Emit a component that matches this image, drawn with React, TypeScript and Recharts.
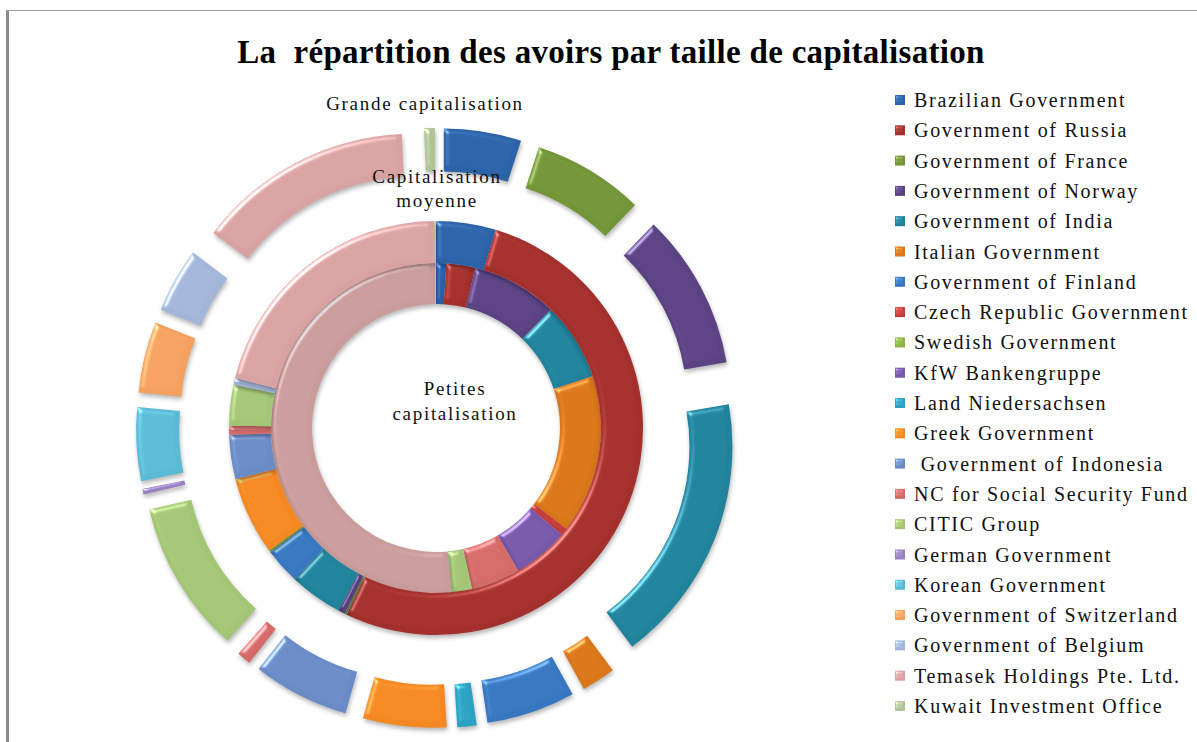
import { Cell, Legend, Pie, PieChart } from "recharts";

const NAMES = [
  "Brazilian Government",
  "Government of Russia",
  "Government of France",
  "Government of Norway",
  "Government of India",
  "Italian Government",
  "Government of Finland",
  "Czech Republic Government",
  "Swedish Government",
  "KfW Bankengruppe",
  "Land Niedersachsen",
  "Greek Government",
  " Government of Indonesia",
  "NC for Social Security Fund",
  "CITIC Group",
  "German Government",
  "Korean Government",
  "Government of Switzerland",
  "Government of Belgium",
  "Temasek Holdings Pte. Ltd.",
  "Kuwait Investment Office",
];

const COLORS = [
  "#2C62A8", "#A3302D", "#739538", "#5A4283", "#21829C", "#DA761A",
  "#3677C0", "#C63D39", "#8AB546", "#7858A8", "#2BA2C2", "#F48924",
  "#6A8BC5", "#D46B69", "#A3C676", "#9680BF", "#5BBBD5", "#F4A05E",
  "#A3B6DA", "#D9A2A2", "#B1C398",
];

// parts in % of each ring
const GRANDE = [5.0, 0, 7.2, 10.1, 17.5, 2.2, 5.75, 0, 0, 0, 1.25, 5.4, 6.25, 0.9, 9.9, 0.35, 4.75, 4.6, 4.2, 14.0, 0.7];
const MOYENNE = [4.65, 52.4, 0.15, 0.55, 4.15, 0, 2.8, 0, 0.15, 0, 0, 6.1, 3.45, 0.7, 3.2, 0, 0, 0, 0.5, 20.95, 0.15];
const PETITES = [1.0, 2.85, 0, 8.4, 7.65, 15.55, 0, 0.7, 0, 5.5, 0, 0, 0, 4.8, 2.0, 0, 0, 0, 0, 51.35, 0.1];

const W = 1197;
const H = 742;
const CX = 431;
const CY = 423;
const EXPLODE = 50;

const ring = (vals: number[]) => NAMES.map((name, i) => ({ name, value: vals[i] }));

// outer ring is exploded: each slice moves out along its bisector
function explodeOffsets(vals: number[]) {
  const total = vals.reduce((a, b) => a + b, 0);
  let acc = 0;
  return vals.map((v) => {
    const mid = ((acc + v / 2) / total) * 2 * Math.PI;
    acc += v;
    return { dx: EXPLODE * Math.sin(mid), dy: -EXPLODE * Math.cos(mid) };
  });
}

const FONT = "'Liberation Serif', 'Times New Roman', serif";

function LegendBox() {
  return (
    <svg width={310} height={640}>
      {NAMES.map((name, i) => {
        const cy = 15 + i * 30.3;
        return (
          <g key={name}>
            <rect x={5} y={cy - 5} width={10} height={10} fill={COLORS[i]} filter="url(#bevelSmall)" />
            <text
              x={24}
              y={cy + 7}
              fontFamily={FONT}
              fontSize={20}
              letterSpacing={1.7}
              fill="#111"
              style={{ whiteSpace: "pre" }}
            >
              {name}
            </text>
          </g>
        );
      })}
    </svg>
  );
}

export default function App() {
  const offsets = explodeOffsets(GRANDE);
  const labelStyle = { fontFamily: FONT, fontSize: 19, letterSpacing: 1.7, fill: "#111" };
  return (
    <div
      style={{
        position: "absolute",
        left: 0,
        top: 0,
        width: W,
        height: H,
        background: "#fff",
        overflow: "hidden",
      }}
    >
      <svg width={0} height={0} style={{ position: "absolute" }}>
        <defs>
          <filter id="bevel" x="-30%" y="-30%" width="160%" height="160%" colorInterpolationFilters="sRGB">
            <feGaussianBlur in="SourceAlpha" stdDeviation={2.5} result="blur" />
            <feSpecularLighting in="blur" surfaceScale={3} specularConstant={1} specularExponent={30} lightingColor="#ffffff" result="spec">
              <feDistantLight azimuth={225} elevation={35} />
            </feSpecularLighting>
            <feComposite in="spec" in2="SourceAlpha" operator="in" result="specIn" />
            <feComposite in="SourceGraphic" in2="specIn" operator="arithmetic" k1={0} k2={1} k3={0.45} k4={0} result="lit" />
            <feGaussianBlur in="SourceAlpha" stdDeviation={2} result="sh" />
            <feOffset in="sh" dx={1} dy={3} result="shOff" />
            <feFlood floodColor="#000" floodOpacity={0.28} />
            <feComposite in2="shOff" operator="in" result="shadow" />
            <feMerge>
              <feMergeNode in="shadow" />
              <feMergeNode in="lit" />
            </feMerge>
          </filter>
          <filter id="bevelSmall" x="-30%" y="-30%" width="160%" height="160%" colorInterpolationFilters="sRGB">
            <feGaussianBlur in="SourceAlpha" stdDeviation={1} result="blur" />
            <feSpecularLighting in="blur" surfaceScale={2} specularConstant={1} specularExponent={20} lightingColor="#ffffff" result="spec">
              <feDistantLight azimuth={225} elevation={35} />
            </feSpecularLighting>
            <feComposite in="spec" in2="SourceAlpha" operator="in" result="specIn" />
            <feComposite in="SourceGraphic" in2="specIn" operator="arithmetic" k1={0} k2={1} k3={0.45} k4={0} />
          </filter>
        </defs>
      </svg>

      {/* chart frame */}
      <div style={{ position: "absolute", left: 6, top: 10, width: 3, height: H, background: "#8a8a8a" }} />
      <div style={{ position: "absolute", left: 6, top: 10, width: W, height: 1, background: "#9a9a9a" }} />

      <PieChart width={W} height={H} style={{ position: "absolute", left: 0, top: 0 }}>
        <Pie
          data={ring(PETITES)}
          dataKey="value"
          nameKey="name"
          cx={CX}
          cy={CY}
          innerRadius={124}
          outerRadius={165}
          startAngle={90}
          endAngle={-270}
          stroke="none"
          isAnimationActive={false}
        >
          {PETITES.map((_, i) => (
            <Cell key={i} fill={i === 19 ? "#C99C9C" : COLORS[i]} filter="url(#bevel)" />
          ))}
        </Pie>
        <Pie
          data={ring(MOYENNE)}
          dataKey="value"
          nameKey="name"
          cx={CX}
          cy={CY}
          innerRadius={165}
          outerRadius={207}
          startAngle={90}
          endAngle={-270}
          stroke="none"
          isAnimationActive={false}
        >
          {MOYENNE.map((_, i) => (
            <Cell key={i} fill={COLORS[i]} filter="url(#bevel)" />
          ))}
        </Pie>
        <Pie
          data={ring(GRANDE)}
          dataKey="value"
          nameKey="name"
          cx={CX}
          cy={CY}
          innerRadius={207}
          outerRadius={250}
          startAngle={90}
          endAngle={-270}
          stroke="none"
          isAnimationActive={false}
        >
          {GRANDE.map((_, i) => (
            <Cell
              key={i}
              fill={COLORS[i]}
              filter="url(#bevel)"
              transform={`translate(${offsets[i].dx.toFixed(2)},${offsets[i].dy.toFixed(2)})`}
            />
          ))}
        </Pie>
        <Legend
          layout="vertical"
          align="right"
          verticalAlign="top"
          content={() => <LegendBox />}
          wrapperStyle={{ left: 890, top: 85, width: 310, height: 640 }}
        />
      </PieChart>

      <svg width={W} height={H} style={{ position: "absolute", left: 0, top: 0, pointerEvents: "none" }}>
        <text x={611} y={63} textAnchor="middle" fontFamily={FONT} fontWeight="bold" fontSize={33} letterSpacing={0.3} fill="#000" style={{ whiteSpace: "pre" }}>
          {"La  répartition des avoirs par taille de capitalisation"}
        </text>
        <text x={425} y={110} textAnchor="middle" {...labelStyle}>
          Grande capitalisation
        </text>
        <text x={437} y={183} textAnchor="middle" {...labelStyle}>
          Capitalisation
        </text>
        <text x={437} y={207} textAnchor="middle" {...labelStyle}>
          moyenne
        </text>
        <text x={455} y={395} textAnchor="middle" {...labelStyle}>
          Petites
        </text>
        <text x={455} y={420} textAnchor="middle" {...labelStyle}>
          capitalisation
        </text>
      </svg>
    </div>
  );
}
